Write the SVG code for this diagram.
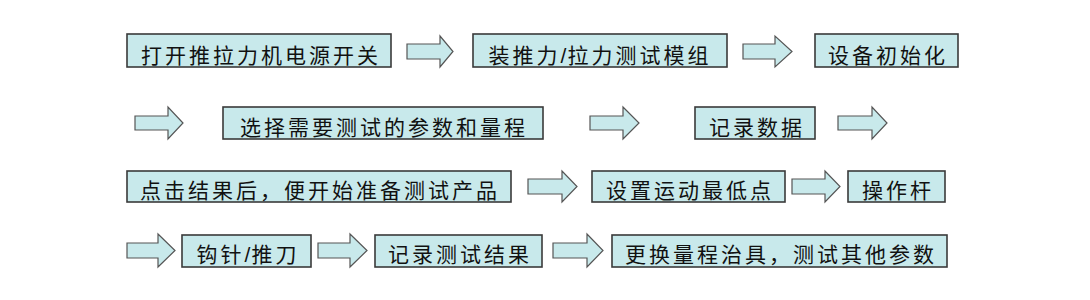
<svg xmlns="http://www.w3.org/2000/svg" width="1090" height="300" viewBox="0 0 1090 300">
<style>
.box{fill:#c8e9eb;stroke:#3a3a3a;stroke-width:1.6}
.arr{fill:#c8e9eb;stroke:#555;stroke-width:1.2;stroke-linejoin:miter}
text{font-family:"Noto Sans CJK SC","Liberation Sans",sans-serif;font-size:21px;fill:#111;text-anchor:middle;letter-spacing:3px}
.sl{font-family:"Liberation Sans",sans-serif;letter-spacing:1px}
</style>
<rect width="1090" height="300" fill="#fff"/>
<g id="connectors">
<polygon class="arr" points="407,44 440,44 440,36 453,51.5 440,67 440,59 407,59"/>
<polygon class="arr" points="743,44 775,44 775,36 792,51.5 775,67 775,59 743,59"/>
<polygon class="arr" points="135,116 168,116 168,107 183,123 168,139 168,130 135,130"/>
<polygon class="arr" points="590,116 623,116 623,107 639,123 623,139 623,130 590,130"/>
<polygon class="arr" points="838,116 872,116 872,107 887,123 872,139 872,130 838,130"/>
<polygon class="arr" points="528,179 562,179 562,171 577,186.5 562,202 562,194 528,194"/>
<polygon class="arr" points="792,179 825,179 825,171 840,186.5 825,202 825,194 792,194"/>
<polygon class="arr" points="127,243 158,243 158,234 175,250.5 158,267 158,258 127,258"/>
<polygon class="arr" points="318,243 350,243 350,234 367,250.5 350,267 350,258 318,258"/>
<polygon class="arr" points="553,243 587,243 587,234 603,250.5 587,267 587,258 553,258"/>
</g>
<g id="n1"><rect class="box" x="127" y="34" width="264" height="33"/><text x="261" y="63">打开推拉力机电源开关</text></g>
<g id="n2"><rect class="box" x="473" y="34" width="254" height="33"/><text x="600" y="63">装推力<tspan class="sl">/</tspan>拉力测试模组</text></g>
<g id="n3"><rect class="box" x="815" y="34" width="143" height="33"/><text x="888" y="63">设备初始化</text></g>
<g id="n4"><rect class="box" x="223" y="107" width="320" height="32"/><text x="384" y="135">选择需要测试的参数和量程</text></g>
<g id="n5"><rect class="box" x="695" y="107" width="120" height="32"/><text x="757" y="135">记录数据</text></g>
<g id="n6"><rect class="box" x="127" y="171" width="384" height="31"/><text x="320" y="198">点击结果后，便开始准备测试产品</text></g>
<g id="n7"><rect class="box" x="592" y="171" width="193" height="31"/><text x="690" y="198">设置运动最低点</text></g>
<g id="n8"><rect class="box" x="848" y="171" width="97" height="31"/><text x="898" y="198">操作杆</text></g>
<g id="n9"><rect class="box" x="182" y="235" width="129" height="32"/><text x="248" y="262">钩针<tspan class="sl">/</tspan>推刀</text></g>
<g id="n10"><rect class="box" x="375" y="235" width="167" height="32"/><text x="460" y="262">记录测试结果</text></g>
<g id="n11"><rect class="box" x="612" y="235" width="335" height="32"/><text x="781" y="262">更换量程治具，测试其他参数</text></g>
</svg>
